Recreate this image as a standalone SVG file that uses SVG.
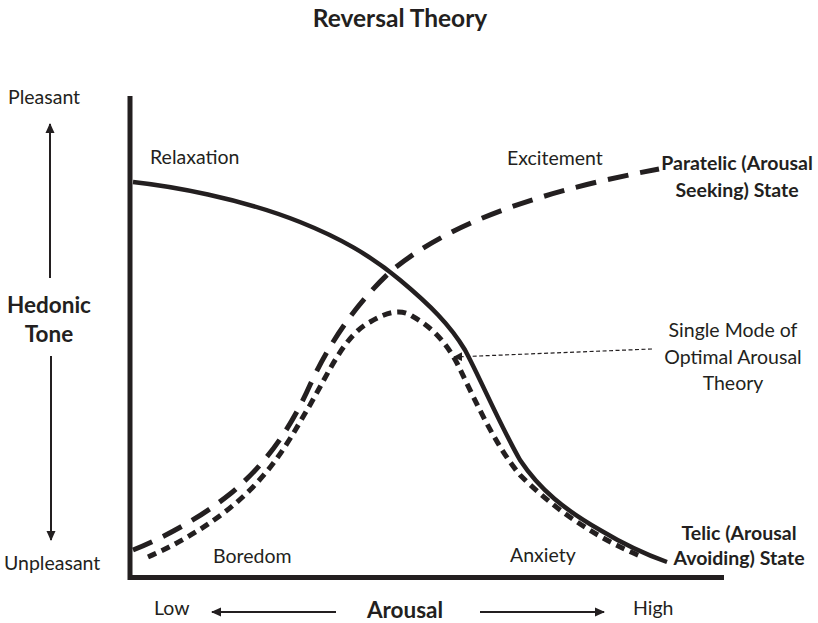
<svg xmlns="http://www.w3.org/2000/svg" width="818" height="623" viewBox="0 0 818 623">
<style>
text{font-family:Lato,"Open Sans","Liberation Sans",sans-serif;fill:#231f20}
.n{font-size:19.5px}
.b{font-size:19.5px;font-weight:bold}
.big{font-size:22.5px;font-weight:bold}
.ttl{font-size:24.5px;font-weight:bold}
.c{text-anchor:middle}
.ax{stroke:#231f20;stroke-width:5;fill:none}
.ar{stroke:#231f20;stroke-width:2;fill:none}
.solid{stroke:#231f20;stroke-width:4.5;fill:none}
.long{stroke:#231f20;stroke-width:5;fill:none;stroke-dasharray:21 12}
.dot{stroke:#231f20;stroke-width:5;fill:none;stroke-dasharray:9 6}
.ptr{stroke:#231f20;stroke-width:1.2;fill:none;stroke-dasharray:4 2.5}
</style>
<defs>
<marker id="ah" viewBox="0 0 10 10" refX="9" refY="5" markerWidth="10" markerHeight="10" markerUnits="userSpaceOnUse" orient="auto">
<path d="M0,0.5 L10,5 L0,9.5 Z" fill="#231f20"/>
</marker>
<marker id="ah2" viewBox="0 0 10 10" refX="9" refY="5" markerWidth="9" markerHeight="10" markerUnits="userSpaceOnUse" orient="auto">
<path d="M0,0 L10,5 L0,10 Z" fill="#231f20"/>
</marker>
</defs>
<g id="title"><text class="ttl c" x="400" y="27">Reversal Theory</text></g>
<g id="axes">
<path class="ax" d="M130,96 V577.5 H724"/>
</g>
<g id="y-axis-label">
<text class="n" x="8" y="104">Pleasant</text>
<text class="n" x="4" y="570">Unpleasant</text>
<text class="big c" x="49" y="313">Hedonic</text>
<text class="big c" x="49" y="342">Tone</text>
<line class="ar" x1="50" y1="278" x2="50" y2="124" marker-end="url(#ah)"/>
<line class="ar" x1="51" y1="356" x2="51" y2="540" marker-end="url(#ah)"/>
</g>
<g id="x-axis-label">
<text class="n" x="154" y="615">Low</text>
<text class="n" x="633" y="615">High</text>
<text class="big c" x="405" y="618">Arousal</text>
<line class="ar" x1="336" y1="612" x2="212" y2="612" marker-end="url(#ah)"/>
<line class="ar" x1="480" y1="612" x2="604" y2="612" marker-end="url(#ah)"/>
</g>
<g id="curves">
<path id="telic" class="solid" d="M133,182 C170,186 240,198 300,222 C340,238 370,255 400,280 C430,305 450,325 465,350 C480,378 500,425 520,460 C540,490 565,510 600,530 C625,545 650,556 667,562"/>
<path id="paratelic" class="long" d="M133,550 C165,537 200,518 230,494 C265,465 290,430 310,385 C330,342 355,305 390,272 C440,230 520,195 659,169"/>
<path id="optimal" class="dot" d="M148,557 C180,543 220,520 250,490 C280,460 295,430 310,405 C330,370 345,335 370,322 C385,313 400,308 412,316 C430,326 445,340 458,365 C475,400 495,445 520,475 C550,505 590,535 640,556"/>
</g>
<g id="connectors">
<line class="ptr" x1="652" y1="349" x2="454" y2="357" marker-end="url(#ah2)"/>
</g>
<g id="labels">
<text class="n" x="150" y="164">Relaxation</text>
<text class="n" x="507" y="165">Excitement</text>
<text class="n" x="213" y="563">Boredom</text>
<text class="n" x="510" y="562">Anxiety</text>
<text class="b c" x="737" y="170">Paratelic (Arousal</text>
<text class="b c" x="737" y="197">Seeking) State</text>
<text class="b c" x="739" y="540">Telic (Arousal</text>
<text class="b c" x="739" y="565">Avoiding) State</text>
<text class="n c" x="733" y="337">Single Mode of</text>
<text class="n c" x="733" y="364">Optimal Arousal</text>
<text class="n c" x="733" y="390">Theory</text>
</g>
</svg>
